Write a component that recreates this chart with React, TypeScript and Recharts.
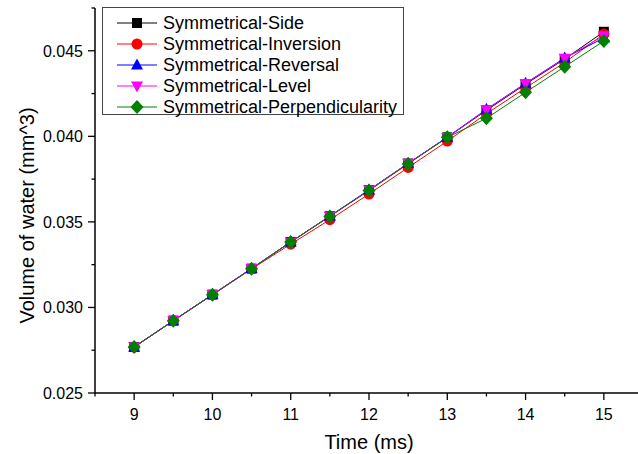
import React from "react";
import { LineChart, Line, XAxis, YAxis, Legend, Label } from "recharts";

const times = [9, 9.5, 10, 10.5, 11, 11.5, 12, 12.5, 13, 13.5, 14, 14.5, 15];
const sideValues = [0.02769, 0.02923, 0.03075, 0.03227, 0.03383, 0.03533, 0.03685, 0.03841, 0.03994, 0.04152, 0.04305, 0.04452, 0.04611];
const inversionValues = [0.02768, 0.02922, 0.03073, 0.03225, 0.0337, 0.03513, 0.03663, 0.03818, 0.03972, 0.04132, 0.04283, 0.04432, 0.04598];
const reversalValues = [0.02768, 0.02922, 0.03075, 0.03228, 0.03383, 0.03534, 0.03687, 0.03842, 0.03995, 0.04158, 0.0431, 0.04458, 0.04575];
const levelValues = [0.0277, 0.02923, 0.03076, 0.03228, 0.03382, 0.03533, 0.03686, 0.03843, 0.03993, 0.04156, 0.04309, 0.04456, 0.04588];
const perpValues = [0.02769, 0.02922, 0.03074, 0.03226, 0.03382, 0.03532, 0.03683, 0.03839, 0.03994, 0.04105, 0.04257, 0.04407, 0.04557];

const seriesNames = [
  "Symmetrical-Side",
  "Symmetrical-Inversion",
  "Symmetrical-Reversal",
  "Symmetrical-Level",
  "Symmetrical-Perpendicularity",
];
const seriesKeys = ["side", "inversion", "reversal", "level", "perp"];
const seriesColors = ["#000000", "#ff0000", "#0000ff", "#ff00ff", "#008000"];
const seriesShapes = ["square", "circle", "triangleUp", "triangleDown", "diamond"];
const seriesValues = [sideValues, inversionValues, reversalValues, levelValues, perpValues];

const xTicks = [8.5, 9, 9.5, 10, 10.5, 11, 11.5, 12, 12.5, 13, 13.5, 14, 14.5, 15, 15.5];
const yTicks = [0.025, 0.0275, 0.03, 0.0325, 0.035, 0.0375, 0.04, 0.0425, 0.045, 0.0475];

const FONT = "'Liberation Sans', Arial, sans-serif";

const data = times.map((t, i) => {
  const row: any = { t };
  seriesKeys.forEach((k, j) => {
    row[k] = seriesValues[j][i];
  });
  return row;
});

function marker(shape: string, cx: number, cy: number, color: string, key?: string) {
  switch (shape) {
    case "square":
      return <rect key={key} x={cx - 5} y={cy - 5} width={10} height={10} fill={color} />;
    case "circle":
      return <circle key={key} cx={cx} cy={cy} r={5.5} fill={color} />;
    case "triangleUp":
      return (
        <polygon key={key} points={`${cx},${cy - 6.5} ${cx - 6},${cy + 4.5} ${cx + 6},${cy + 4.5}`} fill={color} />
      );
    case "triangleDown":
      return (
        <polygon key={key} points={`${cx},${cy + 6.5} ${cx - 6},${cy - 4.5} ${cx + 6},${cy - 4.5}`} fill={color} />
      );
    default:
      return (
        <polygon key={key} points={`${cx},${cy - 7} ${cx + 6.5},${cy} ${cx},${cy + 7} ${cx - 6.5},${cy}`} fill={color} />
      );
  }
}

const XTick = (props: any) => {
  const { x, y, payload } = props;
  const v = payload.value;
  const major = Math.abs(v - Math.round(v)) < 1e-9;
  return (
    <g>
      <line x1={x} x2={x} y1={y} y2={y + (major ? 7 : 3.5)} stroke="#000" strokeWidth={1.3} />
      {major && (
        <text x={x} y={y + 26.5} textAnchor="middle" fontSize={16} fill="#000" fontFamily={FONT}>
          {v}
        </text>
      )}
    </g>
  );
};

const YTick = (props: any) => {
  const { x, y, payload } = props;
  const v = payload.value;
  const major = Math.round(v * 10000) % 50 === 0;
  return (
    <g>
      <line x1={x} x2={x - (major ? 7 : 3.5)} y1={y} y2={y} stroke="#000" strokeWidth={1.3} />
      {major && (
        <text x={x - 12} y={y} dy="0.36em" textAnchor="end" fontSize={16} fill="#000" fontFamily={FONT}>
          {v.toFixed(3)}
        </text>
      )}
    </g>
  );
};

const XLabel = (props: any) => {
  const vb = props.viewBox;
  return (
    <text x={vb.x + vb.width / 2} y={vb.y + 56} textAnchor="middle" fontSize={20} fill="#000" fontFamily={FONT}>
      Time (ms)
    </text>
  );
};

const YLabel = (props: any) => {
  const vb = props.viewBox;
  const cx = 27;
  const cy = vb.y + vb.height / 2 + 15;
  return (
    <text
      x={cx}
      y={cy}
      transform={`rotate(-90 ${cx} ${cy})`}
      textAnchor="middle"
      dominantBaseline="central"
      fontSize={20}
      fill="#000"
      fontFamily={FONT}
    >
      Volume of water (mm^3)
    </text>
  );
};

const LegendBox = (props: any) => {
  const payload = [...(props.payload || [])].sort(
    (a: any, b: any) => seriesNames.indexOf(a.value) - seriesNames.indexOf(b.value)
  );
  return (
    <div
      style={{
        width: 302,
        height: 108,
        boxSizing: "border-box",
        border: "1px solid #444",
        background: "#fff",
        paddingTop: 5,
        fontFamily: FONT,
      }}
    >
      {payload.map((p: any, i: number) => {
        const idx = seriesNames.indexOf(p.value);
        const color = seriesColors[idx];
        return (
          <div key={i} style={{ height: 20.8, display: "flex", alignItems: "center" }}>
            <svg width={60} height={20} style={{ display: "block" }}>
              <line x1={14} x2={54} y1={10} y2={10} stroke={color} strokeWidth={1} />
              {marker(seriesShapes[idx], 34, 10, color)}
            </svg>
            <span style={{ fontSize: 18, color: "#000", marginLeft: 0, whiteSpace: "nowrap", lineHeight: "20px" }}>
              {p.value}
            </span>
          </div>
        );
      })}
    </div>
  );
};

export default function App() {
  return (
    <div style={{ position: "absolute", left: 0, top: 0, width: 638, height: 454, overflow: "hidden", background: "#fff" }}>
      <LineChart
        width={660}
        height={454}
        data={data}
        margin={{ top: 8, right: 17, left: 35, bottom: 21 }}
      >
        <XAxis
          dataKey="t"
          type="number"
          domain={[8.5, 15.5]}
          ticks={xTicks}
          interval={0}
          allowDataOverflow
          height={40}
          tickSize={0}
          tickMargin={0}
          tickLine={false}
          tick={<XTick />}
          axisLine={{ stroke: "#000", strokeWidth: 1.5 }}
        >
          <Label content={<XLabel />} />
        </XAxis>
        <YAxis
          type="number"
          domain={[0.025, 0.0475]}
          ticks={yTicks}
          interval={0}
          allowDataOverflow
          width={60}
          tickSize={0}
          tickMargin={0}
          tickLine={false}
          tick={<YTick />}
          axisLine={{ stroke: "#000", strokeWidth: 1.5 }}
        >
          <Label content={<YLabel />} />
        </YAxis>
        <Legend
          layout="vertical"
          align="center"
          verticalAlign="middle"
          content={<LegendBox />}
          wrapperStyle={{ left: 102, top: 7, width: 302, height: 108 }}
        />
        {seriesKeys.map((k, j) => (
          <Line
            key={k}
            type="linear"
            dataKey={k}
            name={seriesNames[j]}
            stroke={seriesColors[j]}
            strokeWidth={1}
            isAnimationActive={false}
            dot={(p: any) => marker(seriesShapes[j], p.cx, p.cy, seriesColors[j], `${k}-${p.index}`)}
            activeDot={false}
          />
        ))}
      </LineChart>
    </div>
  );
}
